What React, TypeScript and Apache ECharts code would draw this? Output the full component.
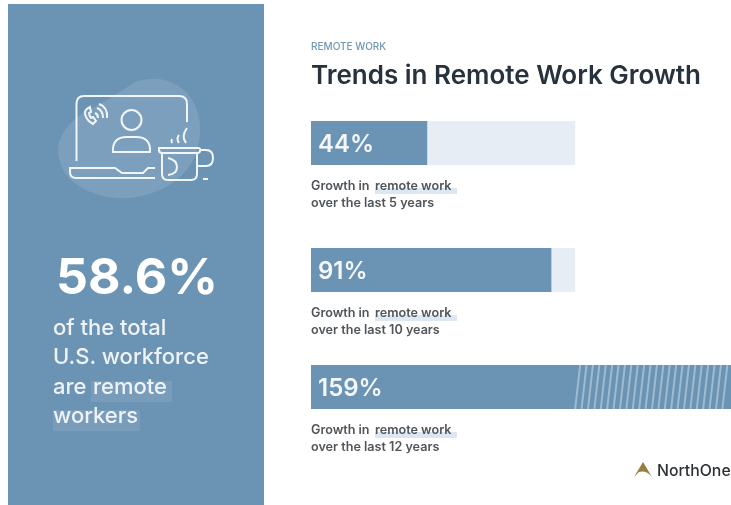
import React, { useEffect, useRef } from "react";
import * as echarts from "echarts";

const periods = ["5 years", "10 years", "12 years"];
const growthValues = [44, 91, 159];
const growthLabels = ["44%", "91%", "159%"];
const trackValues = [100, 100, 0];
const hatchRange = [100, 159];
const captionFirst = "Growth in";
const captionMark = "remote work";
const panelLines = ["of the total", "U.S. workforce", "are", "workers"];

const BLUE = "#6b93b3";
const TRACK = "#e6edf4";
const FONT = "Inter, 'Noto Sans', sans-serif";

const ICON =
  "M76.5 161V104Q76.5 96 84 96H179Q187 96 187 104V122" +
  "M155 168H148L143 173H122L115 168H70V172Q70 178 76 178H155" +
  "M141.5 120A10 10 0 1 1 121.5 120A10 10 0 1 1 141.5 120" +
  "M113 152Q112 137 127 137H136Q151 137 150 152Z" +
  "M159 148H198Q201 148 200 151Q200 153 197 153H162Q159 153 159 150Z" +
  "M162 153V174Q162 180 168 180H191Q197 180 197 174V153" +
  "M200 150H206Q213 150 213 158Q213 166 206 166H197" +
  "M168 158Q177 160 177 167Q177 174 168 175" +
  "M203 179H208" +
  "M186 143Q181 136 187 128" +
  "M179 143Q176 139 179 135" +
  "M172 143Q171 141 172 139" +
  "M90 107Q84 110 85 114Q87 121 93 124L96 121L93 117L91 118Q89 115 89 113L91 112Z" +
  "M95 113Q98 114 98 118" +
  "M97 108Q103 110 103 118" +
  "M99 104Q108 107 107 118";
const BLOB =
  "M58 152Q58 130 82 114Q108 100 135 82Q165 72 186 92Q204 112 199 142Q194 174 160 190Q128 204 96 194Q60 182 58 152Z";
const MARK = "M643 462L652 477Q646 470 639 472L634 477Z";

echarts.graphic.registerShape("iconStroke", echarts.graphic.extendPath(ICON, {}) as any);
echarts.graphic.registerShape("iconBlob", echarts.graphic.extendPath(BLOB, {}) as any);
echarts.graphic.registerShape("logoMark", echarts.graphic.extendPath(MARK, {}) as any);

const BAR_TOPS = [121, 248, 365];
const CAP_BASES = [190, 317, 434];

export default function App() {
  const ref = useRef<HTMLDivElement>(null);
  useEffect(() => {
    const chart = echarts.init(ref.current!, undefined, { renderer: "svg" });
    const txt = (text: string, x: number, base: number, size: number, weight: number, fill: string) => ({
      type: "text",
      x,
      y: base - 0.36 * size,
      z: 20,
      style: { text, fontFamily: FONT, fontSize: size, fontWeight: weight, fill, verticalAlign: "middle" },
    });
    const rect = (x: number, y: number, width: number, height: number, fill: string, z = 5) => ({
      type: "rect",
      z,
      shape: { x, y, width, height },
      style: { fill },
    });
    const graphics: any[] = [
      rect(8, 4, 256, 501, BLUE, 1),
      { type: "iconBlob", z: 2, style: { fill: "#7b9fbc" } },
      { type: "iconStroke", z: 3, style: { fill: "none", stroke: "#f2f6fa", lineWidth: 2 } },
      rect(91, 381, 81, 21, "#789cb9", 3),
      rect(53, 410, 87, 21, "#789cb9", 3),
      txt("58.6%", 56, 294, 50, 700, "#ffffff"),
      ...panelLines.map((l, i) => txt(l, 53, 335 + i * 29.3, 22, 500, "#eef3f8")),
      txt("remote", 93, 335 + 2 * 29.3, 22, 500, "#eef3f8"),
      txt("REMOTE WORK", 311, 50, 10, 500, "#6f98b8"),
      txt("Trends in Remote Work Growth", 311, 84, 26, 600, "#27323c"),
      { type: "logoMark", z: 10, style: { fill: "#97803f" } },
      txt("NorthOne", 657, 476, 15.8, 500, "#2d3136"),
    ];
    periods.forEach((p, i) => {
      const y = CAP_BASES[i];
      graphics.push(rect(375, y - 2, 82, 6, "#dce7f1", 4));
      graphics.push(txt(captionFirst, 311, y, 12.6, 600, "#50555a"));
      graphics.push(txt(captionMark, 375, y, 12.6, 600, "#50555a"));
      graphics.push(txt("over the last " + p, 311, y + 17, 12.6, 600, "#50555a"));
    });

    chart.setOption({
      animation: false,
      backgroundColor: "#ffffff",
      graphic: graphics,
      grid: BAR_TOPS.map((top) => ({ left: 311, width: 420, top, height: 44 })),
      xAxis: BAR_TOPS.map((_, i) => ({ type: "value", gridIndex: i, min: 0, max: 159, show: false })),
      yAxis: BAR_TOPS.map((_, i) => ({ type: "category", gridIndex: i, data: [periods[i]], show: false })),
      series: [
        ...periods.map((_, i) => ({
          type: "bar",
          xAxisIndex: i,
          yAxisIndex: i,
          barWidth: "100%",
          barGap: "-100%",
          silent: true,
          data: [trackValues[i]],
          itemStyle: { color: TRACK },
          z: 2,
        })),
        ...periods.map((_, i) => ({
          type: "bar",
          xAxisIndex: i,
          yAxisIndex: i,
          barWidth: "100%",
          barGap: "-100%",
          data: [growthValues[i]],
          itemStyle: { color: BLUE },
          z: 3,
          label: {
            show: true,
            position: "insideLeft",
            distance: 7,
            formatter: growthLabels[i],
            fontFamily: FONT,
            fontSize: 24,
            fontWeight: 600,
            color: "#f4f7fa",
          },
        })),
        {
          type: "custom",
          xAxisIndex: 2,
          yAxisIndex: 2,
          z: 4,
          data: [hatchRange],
          encode: { x: [0, 1] },
          renderItem: (_: any, api: any) => {
            const a = api.coord([api.value(0), 0]);
            const b = api.coord([api.value(1), 0]);
            const h = api.size([0, 1])[1];
            const top = a[1] - h / 2;
            const bottom = a[1] + h / 2;
            const children: any[] = [];
            for (let x = a[0]; x < b[0] - 5; x += 6.4) {
              children.push({
                type: "line",
                shape: { x1: x, y1: bottom, x2: x + 5, y2: top },
                style: { stroke: "#9fbbd1", lineWidth: 2 },
              });
            }
            return { type: "group", children };
          },
        },
      ],
    });
    return () => chart.dispose();
  }, []);
  return <div ref={ref} style={{ position: "absolute", left: 0, top: 0, width: 731, height: 505, filter: "blur(0.5px)" }} />;
}
